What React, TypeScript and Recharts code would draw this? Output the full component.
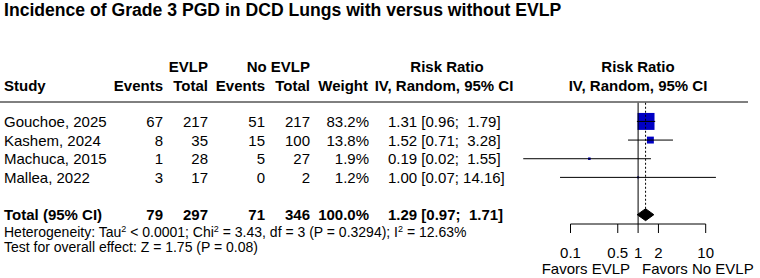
import React from "react";
import {
  ComposedChart,
  XAxis,
  YAxis,
  Scatter,
  ReferenceLine,
  ReferenceArea,
} from "recharts";

const studies = ["Gouchoe, 2025", "Kashem, 2024", "Machuca, 2015", "Mallea, 2022"];
const evlpEvents = [67, 8, 1, 3];
const evlpTotal = [217, 35, 28, 17];
const noEvlpEvents = [51, 15, 5, 0];
const noEvlpTotal = [217, 100, 27, 2];
const weights = [83.2, 13.8, 1.9, 1.2];
const rr = [1.31, 1.52, 0.19, 1.0];
const ciLow = [0.96, 0.71, 0.02, 0.07];
const ciHigh = [1.79, 3.28, 1.55, 14.16];

const totalEvlpEvents = 79;
const totalEvlpTotal = 297;
const totalNoEvents = 71;
const totalNoTotal = 346;
const totalWeight = 100.0;
const pooledRR = 1.29;
const pooledLow = 0.97;
const pooledHigh = 1.71;

const xTicks = [0.1, 0.5, 1, 2, 10];

const FONT = "'Liberation Sans', Arial, Helvetica, sans-serif";
const SQUARE = "#0000C4";

const rows = studies.map((s, i) => ({
  study: s,
  row: i + 1,
  rr: rr[i],
  lo: ciLow[i],
  hi: ciHigh[i],
  w: weights[i],
}));
const totalRow = 6;

const fmt2 = (v: number) => v.toFixed(2);
const ciText = (r: number, l: number, h: number) => {
  const hs = fmt2(h);
  return `${fmt2(r)} [${fmt2(l)}; ${hs.length < 5 ? " " : ""}${hs}]`;
};

const SquareShape = (props: any) => {
  const { cx, cy, payload } = props;
  if (cx == null || cy == null) return <g />;
  const s = 1.86 * Math.sqrt(payload.w);
  return <rect x={cx - s / 2} y={cy - s / 2} width={s} height={s} fill={SQUARE} stroke="none" />;
};

const DiamondShape = (props: any) => {
  const { x, y, width, height } = props;
  const frac =
    (Math.log(pooledRR) - Math.log(pooledLow)) / (Math.log(pooledHigh) - Math.log(pooledLow));
  const xc = x + width * frac;
  const ym = y + height / 2;
  const pts = `${x},${ym} ${xc},${y} ${x + width},${ym} ${xc},${y + height}`;
  return <polygon points={pts} fill="#000" stroke="#000" />;
};

// plot region geometry
const W = 760;
const H = 278;
const ROW_PX = 18.65;
const Y_MAX = 6.5;
const AXIS_Y = 224;
const PLOT_TOP = AXIS_Y - ROW_PX * Y_MAX;
const X_LEFT = 570.5;
const X_RIGHT = 705.7;
const AXIS_H = 30;

const rowBase = (row: number) => PLOT_TOP + row * ROW_PX + 5.5;

const colEnds = [163, 208, 265, 310, 369];

function TableText() {
  const t = (x: number, y: number, s: string, anchor: string = "start", extra: any = {}) => (
    <text
      x={x}
      y={y}
      textAnchor={anchor}
      style={{ whiteSpace: "pre" }}
      {...extra}
    >
      {s}
    </text>
  );
  const bold = { fontWeight: "bold" };
  return (
    <svg
      width={W}
      height={H}
      style={{ position: "absolute", left: 0, top: 0, pointerEvents: "none" }}
      fontFamily={FONT}
      fontSize={15}
      fill="#000"
    >
      <text x={4} y={16} fontSize={17.6} fontWeight="bold">
        Incidence of Grade 3 PGD in DCD Lungs with versus without EVLP
      </text>
      {t(208, 72, "EVLP", "end", bold)}
      {t(310, 72, "No EVLP", "end", bold)}
      {t(447, 72, "Risk Ratio", "middle", bold)}
      {t(638, 72, "Risk Ratio", "middle", bold)}
      {t(4, 91, "Study", "start", bold)}
      {t(colEnds[0], 91, "Events", "end", bold)}
      {t(colEnds[1], 91, "Total", "end", bold)}
      {t(colEnds[2], 91, "Events", "end", bold)}
      {t(colEnds[3], 91, "Total", "end", bold)}
      {t(colEnds[4] - 1, 91, "Weight", "end", bold)}
      {t(444, 91, "IV, Random, 95% CI", "middle", bold)}
      {t(638, 91, "IV, Random, 95% CI", "middle", bold)}
      <line x1={0} x2={748} y1={102} y2={102} stroke="#000" strokeWidth={1} />
      {rows.map((r, i) => {
        const y = rowBase(r.row);
        return (
          <g key={r.study}>
            {t(4, y, r.study)}
            {t(colEnds[0], y, String(evlpEvents[i]), "end")}
            {t(colEnds[1], y, String(evlpTotal[i]), "end")}
            {t(colEnds[2], y, String(noEvlpEvents[i]), "end")}
            {t(colEnds[3], y, String(noEvlpTotal[i]), "end")}
            {t(colEnds[4], y, `${r.w.toFixed(1)}%`, "end")}
            {t(388, y, ciText(r.rr, r.lo, r.hi))}
          </g>
        );
      })}
      {(() => {
        const y = rowBase(totalRow);
        return (
          <g fontWeight="bold">
            {t(4, y, "Total (95% CI)")}
            {t(colEnds[0], y, String(totalEvlpEvents), "end")}
            {t(colEnds[1], y, String(totalEvlpTotal), "end")}
            {t(colEnds[2], y, String(totalNoEvents), "end")}
            {t(colEnds[3], y, String(totalNoTotal), "end")}
            {t(colEnds[4], y, `${totalWeight.toFixed(1)}%`, "end")}
            {t(388, y, ciText(pooledRR, pooledLow, pooledHigh))}
          </g>
        );
      })()}
      <text x={4} y={236.5} fontSize={14} style={{ whiteSpace: "pre" }}>
        Heterogeneity: Tau
        <tspan dy={-5} fontSize={9}>2</tspan>
        <tspan dy={5}> &lt; 0.0001; Chi</tspan>
        <tspan dy={-5} fontSize={9}>2</tspan>
        <tspan dy={5}> = 3.43, df = 3 (P = 0.3294); I</tspan>
        <tspan dy={-5} fontSize={9}>2</tspan>
        <tspan dy={5}> = 12.63%</tspan>
      </text>
      <text x={4} y={252} fontSize={14}>
        Test for overall effect: Z = 1.75 (P = 0.08)
      </text>
      {t(630, 274, "Favors EVLP", "end")}
      {t(642, 274, "Favors No EVLP", "start")}
    </svg>
  );
}

export default function App() {
  return (
    <div style={{ position: "absolute", left: 0, top: 0, width: W, height: H, background: "#fff" }}>
      <ComposedChart
        width={W}
        height={H}
        data={rows}
        margin={{
          top: PLOT_TOP,
          left: X_LEFT,
          right: W - X_RIGHT,
          bottom: H - AXIS_Y - AXIS_H,
        }}
      >
        <XAxis
          dataKey="rr"
          type="number"
          scale="log"
          domain={[0.1, 10]}
          allowDataOverflow
          ticks={xTicks}
          interval={0}
          height={AXIS_H}
          tickSize={9}
          tickMargin={14}
          axisLine={{ stroke: "#000" }}
          tickLine={{ stroke: "#000" }}
          tick={{ fontSize: 15, fill: "#000", fontFamily: FONT }}
          tickFormatter={(v: number) => String(v)}
        />
        <YAxis dataKey="row" type="number" domain={[0, Y_MAX]} reversed allowDataOverflow hide />
        <Scatter data={rows} dataKey="row" shape={SquareShape} isAnimationActive={false} />
        <ReferenceLine x={1} stroke="#000" strokeWidth={1} ifOverflow="visible" zIndex={700} />
        <ReferenceLine
          segment={[
            { x: pooledRR, y: 0 },
            { x: pooledRR, y: totalRow - 0.3 },
          ]}
          stroke="#000"
          strokeWidth={1}
          strokeDasharray="2 2"
          ifOverflow="visible"
          zIndex={700}
        />
        {rows.map((r) => (
          <ReferenceLine
            key={r.study}
            segment={[
              { x: r.lo, y: r.row },
              { x: r.hi, y: r.row },
            ]}
            stroke="#000"
            strokeWidth={1}
            ifOverflow="visible"
            zIndex={700}
          />
        ))}
        <ReferenceArea
          x1={pooledLow}
          x2={pooledHigh}
          y1={totalRow - 0.32}
          y2={totalRow + 0.32}
          shape={DiamondShape}
          ifOverflow="visible"
          zIndex={700}
        />
      </ComposedChart>
      <TableText />
    </div>
  );
}
